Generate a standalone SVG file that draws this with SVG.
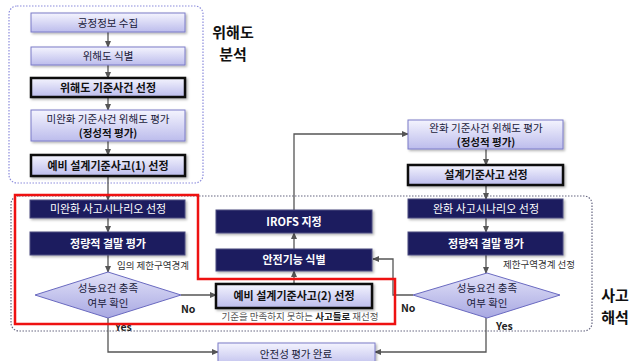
<svg xmlns="http://www.w3.org/2000/svg" width="641" height="361" viewBox="0 0 641 361">
<defs>
<linearGradient id="lg" x1="0" y1="0" x2="0" y2="1">
<stop offset="0" stop-color="#f4f4fe"/>
<stop offset="1" stop-color="#bcbcec"/>
</linearGradient>
<linearGradient id="dg" x1="0" y1="0" x2="0" y2="1">
<stop offset="0" stop-color="#e2e2f8"/>
<stop offset="1" stop-color="#a8a8e2"/>
</linearGradient>
<marker id="ar" viewBox="0 0 8 8" refX="7" refY="4" markerWidth="7" markerHeight="7" markerUnits="userSpaceOnUse" orient="auto">
<path d="M0,0.5 L8,4 L0,7.5 z" fill="#555"/>
</marker>
<filter id="sh" x="-5%" y="-10%" width="115%" height="140%">
<feDropShadow dx="1.5" dy="1.5" stdDeviation="0.8" flood-color="#000" flood-opacity="0.3"/>
</filter>
</defs>
<style>
.light{fill:url(#lg);stroke:#7b7bc8;stroke-width:1;filter:url(#sh)}
.bold{fill:url(#lg);stroke:#111;stroke-width:2.5;filter:url(#sh)}
.navy{fill:#1f1f5e;stroke:#4a4a80;stroke-width:1;filter:url(#sh)}
.dia{fill:url(#dg);stroke:#6a6ac0;stroke-width:1}
text{font-family:"Noto Sans CJK KR","Noto Sans",sans-serif;text-anchor:middle}
.t{font-size:10.5px;fill:#1a1a3a}
.tb{font-size:11px;font-weight:bold;fill:#111}
.tw{font-size:11px;fill:#fff}
.twb{font-size:11px;font-weight:bold;fill:#fff}
.lbl{font-size:9.5px;fill:#333;text-anchor:start}
.yn{font-size:10.5px;font-weight:bold;fill:#222;text-anchor:start}
.big{font-size:15px;font-weight:bold;fill:#111}
.c{fill:none;stroke:#555;stroke-width:1.3}
</style>

<g id="frames">
<rect x="9" y="6" width="194" height="177" rx="8" fill="none" stroke="#8c8cdc" stroke-width="1.2" stroke-dasharray="1.5 1.5"/>
<rect x="11" y="196" width="581" height="135" rx="8" fill="none" stroke="#666680" stroke-width="1.2" stroke-dasharray="1.5 1.5"/>
</g>

<g id="connectors">
<line class="c" x1="108" y1="32" x2="108" y2="47" marker-end="url(#ar)"/>
<line class="c" x1="108" y1="65" x2="108" y2="78" marker-end="url(#ar)"/>
<line class="c" x1="108" y1="97" x2="108" y2="110" marker-end="url(#ar)"/>
<line class="c" x1="108" y1="141" x2="108" y2="155" marker-end="url(#ar)"/>
<line class="c" x1="108" y1="176" x2="108" y2="200" marker-end="url(#ar)"/>
<line class="c" x1="108" y1="218" x2="108" y2="232" marker-end="url(#ar)"/>
<line class="c" x1="108" y1="255" x2="108" y2="272" marker-end="url(#ar)"/>
<line class="c" x1="181" y1="295" x2="216" y2="295" marker-end="url(#ar)"/>
<polyline class="c" points="108,318 108,352 218,352" marker-end="url(#ar)"/>
<line class="c" x1="294" y1="284" x2="294" y2="271" marker-end="url(#ar)"/>
<line class="c" x1="294" y1="249" x2="294" y2="233" marker-end="url(#ar)"/>
<polyline class="c" points="294,210 294,134 408,134" marker-end="url(#ar)"/>
<line class="c" x1="486" y1="149" x2="486" y2="165" marker-end="url(#ar)"/>
<line class="c" x1="486" y1="185" x2="486" y2="199" marker-end="url(#ar)"/>
<line class="c" x1="486" y1="218" x2="486" y2="232" marker-end="url(#ar)"/>
<line class="c" x1="486" y1="255" x2="486" y2="273" marker-end="url(#ar)"/>
<polyline class="c" points="413,295 393,295 393,259 373,259" marker-end="url(#ar)"/>
<polyline class="c" points="486,318 486,352 375,352" marker-end="url(#ar)"/>
</g>

<g id="n1"><rect class="light" x="31" y="13" width="154" height="19"/><text class="t" x="108" y="26.5">공정정보 수집</text></g>
<g id="n2"><rect class="light" x="31" y="47" width="154" height="18"/><text class="t" x="108" y="60">위해도 식별</text></g>
<g id="n3"><rect class="bold" x="31" y="78" width="154" height="19"/><text class="tb" x="108" y="91.5">위해도 기준사건 선정</text></g>
<g id="n4"><rect class="light" x="31" y="110" width="154" height="31"/><text class="t" x="108" y="123">미완화 기준사건 위해도 평가</text><text class="tb" x="108" y="137" style="font-size:10.5px">(정성적 평가)</text></g>
<g id="n5"><rect class="bold" x="31" y="155" width="154" height="21"/><text class="tb" x="108" y="169.5">예비 설계기준사고(1) 선정</text></g>

<g id="n6"><rect class="navy" x="30" y="200" width="155" height="18"/><text class="tw" x="108" y="213">미완화 사고시나리오 선정</text></g>
<g id="n7"><rect class="navy" x="30" y="232" width="155" height="23"/><text class="twb" x="108" y="247.5">정량적 결말 평가</text></g>
<g id="n8"><polygon class="dia" points="35,295 108,272 181,295 108,318"/><text class="t" x="108" y="292">성능요건 충족</text><text class="t" x="108" y="307">여부 확인</text></g>

<g id="n9"><rect class="navy" x="216" y="210" width="156" height="23"/><text class="twb" x="294" y="225.5">IROFS 지정</text></g>
<g id="n10"><rect class="navy" x="216" y="249" width="156" height="22"/><text class="twb" x="294" y="264">안전기능 식별</text></g>
<g id="n11"><rect class="bold" x="216" y="284" width="156" height="24"/><text class="tb" x="294" y="300">예비 설계기준사고(2) 선정</text></g>
<g id="n12"><rect class="light" x="218" y="343" width="157" height="24"/><text class="t" x="296" y="358">안전성 평가 완료</text></g>

<g id="n13"><rect class="light" x="408" y="120" width="155" height="29"/><text class="t" x="486" y="132">완화 기준사건 위해도 평가</text><text class="tb" x="486" y="145.5" style="font-size:10.5px">(정성적 평가)</text></g>
<g id="n14"><rect class="bold" x="408" y="165" width="155" height="20"/><text class="tb" x="486" y="179">설계기준사고 선정</text></g>
<g id="n15"><rect class="navy" x="408" y="199" width="155" height="19"/><text class="tw" x="486" y="212.5">완화 사고시나리오 선정</text></g>
<g id="n16"><rect class="navy" x="408" y="232" width="155" height="23"/><text class="twb" x="486" y="247.5">정량적 결말 평가</text></g>
<g id="n17"><polygon class="dia" points="413,295 487,273 560,295 487,318"/><text class="t" x="487" y="292">성능요건 충족</text><text class="t" x="487" y="307">여부 확인</text></g>

<g id="labels">
<text class="lbl" x="117" y="269">임의 제한구역경계</text>
<text class="lbl" x="503" y="268">제한구역경계 선정</text>
<text class="yn" x="181" y="313">No</text>
<text class="yn" x="115" y="331">Yes</text>
<text class="yn" x="401" y="312">No</text>
<text class="yn" x="496" y="330">Yes</text>
<text x="300" y="320" style="font-size:9.5px;fill:#555">기준을 만족하지 못하는 <tspan style="font-weight:bold;fill:#222">사고들로</tspan> 재선정</text>
<text class="big" x="233" y="38">위해도</text>
<text class="big" x="233" y="60">분석</text>
<text class="big" x="615" y="301">사고</text>
<text class="big" x="615" y="323">해석</text>
</g>

<g id="highlight">
<polygon points="15,195 198,195 198,279 395,279 395,324 15,324" fill="none" stroke="#ee1111" stroke-width="2.5"/>
</g>
</svg>
